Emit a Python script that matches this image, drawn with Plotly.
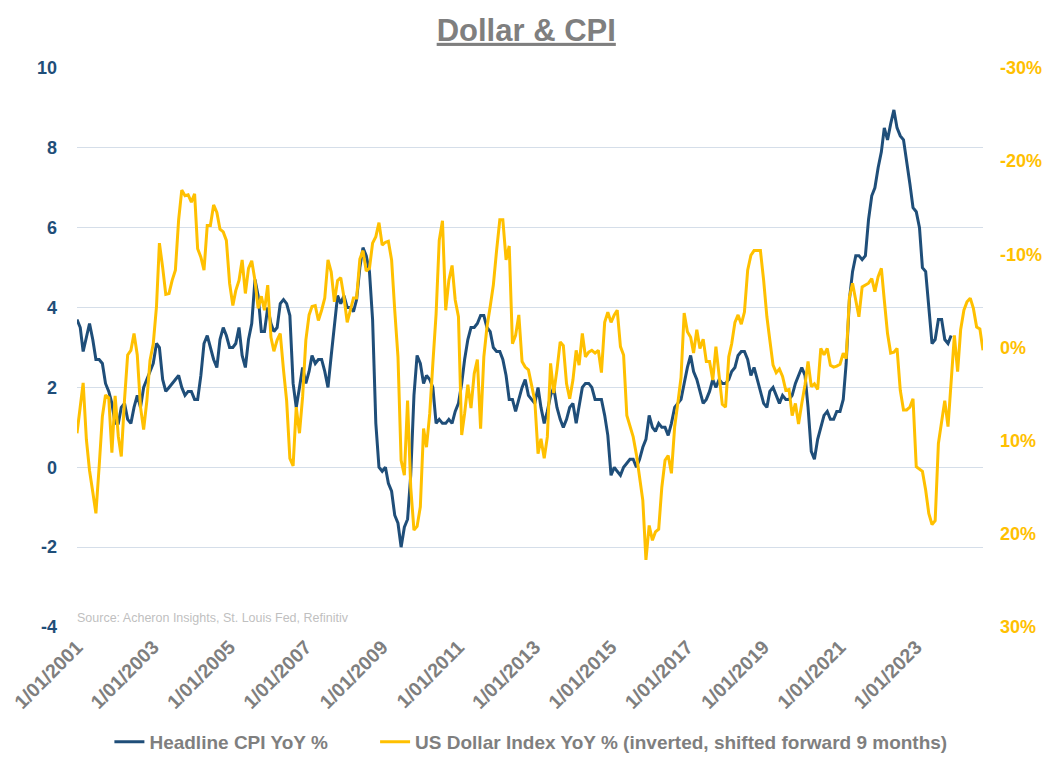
import pandas as pd
import plotly.graph_objects as go

# Headline CPI YoY %, monthly Jan-2001 .. Dec-2023
cpi_yoy = [
    3.7, 3.5, 2.9, 3.3, 3.6, 3.2, 2.7, 2.7, 2.6, 2.1, 1.9, 1.6,   # 2001
    1.1, 1.1, 1.5, 1.6, 1.2, 1.1, 1.5, 1.8, 1.5, 2.0, 2.2, 2.4,   # 2002
    2.6, 3.1, 3.0, 2.2, 1.9, 2.0, 2.1, 2.2, 2.3, 2.0, 1.8, 1.9,   # 2003
    1.9, 1.7, 1.7, 2.3, 3.1, 3.3, 3.0, 2.7, 2.5, 3.2, 3.5, 3.3,   # 2004
    3.0, 3.0, 3.1, 3.5, 2.8, 2.5, 3.2, 3.6, 4.7, 4.3, 3.4, 3.4,   # 2005
    4.0, 3.6, 3.4, 3.5, 4.1, 4.2, 4.1, 3.8, 2.1, 1.5, 2.0, 2.5,   # 2006
    2.1, 2.4, 2.8, 2.6, 2.7, 2.7, 2.4, 2.0, 2.8, 3.5, 4.3, 4.1,   # 2007
    4.3, 4.0, 4.0, 3.9, 4.2, 5.0, 5.5, 5.3, 4.9, 3.7, 1.1, 0.0,   # 2008
    -0.1, 0.0, -0.4, -0.6, -1.2, -1.4, -2.0, -1.5, -1.3, -0.2, 1.8, 2.8,  # 2009
    2.6, 2.1, 2.3, 2.2, 2.0, 1.1, 1.2, 1.1, 1.1, 1.2, 1.1, 1.4,   # 2010
    1.6, 2.1, 2.7, 3.2, 3.5, 3.5, 3.6, 3.8, 3.8, 3.5, 3.4, 3.0,   # 2011
    2.9, 2.9, 2.7, 2.3, 1.7, 1.7, 1.4, 1.7, 2.0, 2.2, 1.8, 1.7,   # 2012
    1.6, 2.0, 1.5, 1.1, 1.4, 1.8, 2.0, 1.5, 1.2, 1.0, 1.2, 1.5,   # 2013
    1.6, 1.1, 1.5, 2.0, 2.1, 2.1, 2.0, 1.7, 1.7, 1.7, 1.3, 0.8,   # 2014
    -0.2, 0.0, -0.1, -0.2, 0.0, 0.1, 0.2, 0.2, 0.0, 0.2, 0.5, 0.7,  # 2015
    1.3, 1.0, 0.9, 1.1, 1.0, 1.0, 0.8, 1.1, 1.5, 1.6, 1.7, 2.1,   # 2016
    2.5, 2.8, 2.4, 2.2, 1.9, 1.6, 1.7, 1.9, 2.2, 2.0, 2.2, 2.1,   # 2017
    2.1, 2.2, 2.4, 2.5, 2.8, 2.9, 2.9, 2.7, 2.3, 2.5, 2.2, 1.9,   # 2018
    1.6, 1.5, 1.9, 2.0, 1.8, 1.6, 1.8, 1.7, 1.7, 1.8, 2.1, 2.3,   # 2019
    2.5, 2.3, 1.5, 0.4, 0.2, 0.7, 1.0, 1.3, 1.4, 1.2, 1.2, 1.4,   # 2020
    1.4, 1.7, 2.6, 4.2, 4.9, 5.3, 5.3, 5.2, 5.3, 6.2, 6.8, 7.0,   # 2021
    7.5, 7.9, 8.5, 8.2, 8.6, 8.95, 8.5, 8.3, 8.2, 7.7, 7.1, 6.5,  # 2022
    6.4, 6.0, 5.0, 4.9, 4.0, 3.1, 3.2, 3.7, 3.7, 3.2, 3.1, 3.3,   # 2023
]

# US Dollar Index YoY % (plotted 9 months forward), monthly Jan-2001 .. Oct-2024
usd_yoy = [
    9.2, 6.0, 3.8, 9.9, 13.2, 15.5, 17.8, 12.8, 7.4, 5.1, 5.4, 11.3,          # 2001
    5.2, 9.6, 11.7, 5.6, 0.8, 0.3, -1.5, 0.8, 6.4, 8.8, 5.7, 1.4,             # 2002
    -0.4, -4.4, -11.2, -8.6, -5.7, -5.8, -7.2, -8.3, -13.7, -16.9, -16.3, -16.4,  # 2003
    -15.6, -16.5, -10.6, -9.7, -8.3, -13.1, -13.1, -15.3, -14.5, -12.7, -12.4, -11.5,  # 2004
    -6.9, -4.5, -6.1, -7.2, -9.4, -5.8, -8.5, -9.3, -7.2, -4.2, -5.5, -4.0,   # 2005
    -6.7, -1.1, 0.4, -0.8, -1.5, 2.4, 5.7, 11.9, 12.7, 6.4, 9.2, 5.3,         # 2006
    -0.8, -3.5, -4.4, -4.5, -2.9, -4.0, -5.3, -9.4, -8.1, -4.9, -7.2, -7.5,   # 2007
    -5.4, -2.7, -4.0, -5.3, -5.3, -9.5, -10.4, -8.2, -8.5, -11.2, -11.9, -13.4,  # 2008
    -11.0, -11.3, -11.4, -9.4, -4.0, 1.0, 12.1, 13.7, 5.7, 15.0, 19.6, 19.2,  # 2009
    17.1, 8.7, 10.7, 7.1, 1.7, -3.6, -11.5, -13.6, -4.0, -7.2, -8.8, -5.1,    # 2010
    -3.3, 9.4, 7.1, 4.0, 6.5, 2.8, 1.3, 8.7, 1.0, -2.2, -4.4, -6.7,           # 2011
    -10.4, -13.7, -13.7, -9.4, -10.9, -0.4, -1.3, -3.5, 1.5, 2.1, 2.4, 4.0,   # 2012
    5.7, 11.4, 9.8, 11.9, 9.6, 1.7, 4.9, 2.4, -0.6, -0.2, 3.9, 5.5,           # 2013
    3.5, 0.3, 1.9, -1.5, 1.0, 0.5, 0.3, 0.6, 0.3, 2.7, -2.7, -3.8,            # 2014
    -2.7, -3.5, -4.0, -0.1, 0.8, 7.3, 8.5, 9.6, 11.5, 13.9, 16.4, 22.8,       # 2015
    19.1, 20.7, 19.8, 19.5, 15.0, 12.1, 11.6, 13.5, 8.5, 6.0, 3.2, -3.7,      # 2016
    -1.7, -1.1, 0.6, -1.9, 0.1, -0.9, 1.5, 1.5, 3.5, -0.1, 2.8, 6.1,          # 2017
    6.4, 1.0, -0.4, -2.7, -3.5, -2.5, -3.8, -8.3, -9.9, -10.4, -10.4, -10.4,  # 2018
    -7.2, -3.3, -0.8, 1.9, 2.7, 2.3, 3.1, 4.6, 4.5, 7.3, 6.0, 8.2,            # 2019
    6.0, 4.0, 1.5, 4.2, 3.9, 4.5, 0.1, 0.8, 0.1, 1.9, 2.1, 2.0,               # 2020
    1.8, 0.6, 1.2, -5.4, -6.9, -5.1, -3.3, -6.5, -6.7, -6.9, -7.4, -6.0,      # 2021
    -7.6, -8.5, -5.1, -1.5, 0.6, 0.5, 0.1, 4.6, 6.7, 6.7, 6.4, 5.5,           # 2022
    12.8, 13.1, 13.3, 15.3, 17.8, 19.0, 18.6, 10.3, 8.2, 5.7, 8.5, 3.5,       # 2023
    -1.3, 2.6, -1.9, -4.0, -4.9, -5.3, -4.2, -2.2, -2.0, 0.3,                # 2024
]

cpi_dates = pd.date_range("2001-01-01", periods=len(cpi_yoy), freq="MS")
usd_dates = pd.date_range("2001-01-01", periods=len(usd_yoy), freq="MS")

tick_years = list(range(2001, 2024, 2))
tick_vals = [f"{y}-01-01" for y in tick_years]
tick_text = [f"<b>1/01/{y}</b>" for y in tick_years]

left_ticks = [-4, -2, 0, 2, 4, 6, 8, 10]
left_text = [f"<b>{v}</b>" for v in left_ticks]
right_ticks = [-30, -20, -10, 0, 10, 20, 30]
right_text = [f"<b>{v}%</b>" for v in right_ticks]

BLUE = "#1F4E79"
GOLD = "#FFC000"
GRAY = "#7F7F7F"
FONT = "Liberation Sans, Arial, sans-serif"

# page has an 8px body margin, so the figure is sized to fit the 1055x766 window
W, H = 1047, 758

fig = go.Figure()
fig.add_trace(go.Scatter(
    x=cpi_dates, y=cpi_yoy,
    name="<b>Headline CPI YoY %</b>" + "&nbsp;" * 8, mode="lines",
    line=dict(color=BLUE, width=3), yaxis="y"))
fig.add_trace(go.Scatter(
    x=usd_dates, y=usd_yoy,
    name="<b>US Dollar Index YoY % (inverted, shifted forward 9 months)</b>",
    mode="lines", line=dict(color=GOLD, width=3), yaxis="y2"))

fig.update_layout(
    width=W, height=H,
    margin=dict(l=69, r=72, t=60, b=139, autoexpand=False),
    paper_bgcolor="white", plot_bgcolor="white",
    font=dict(family=FONT, color=GRAY),
    title=dict(text="<b><u>Dollar & CPI</u></b>", x=0.495, xanchor="center",
               y=1 - 22 / H, yanchor="middle", automargin=False,
               font=dict(size=31, color=GRAY)),
    xaxis=dict(type="date", range=["2001-01-01", "2024-10-01"],
               tickvals=tick_vals, ticktext=tick_text, tickangle=-45,
               showgrid=False, zeroline=False, showline=False, automargin=False,
               tickfont=dict(size=19.5, color=GRAY, family=FONT),
               ticks="", ticklabelstandoff=4, ticklabeloverflow="allow"),
    yaxis=dict(range=[-4, 10], tickvals=left_ticks, ticktext=left_text, showgrid=True,
               gridcolor="#D5DEE9", gridwidth=1, zeroline=False, automargin=False,
               tickfont=dict(size=18, color=BLUE, family=FONT),
               ticklabelstandoff=19),
    yaxis2=dict(range=[30, -30], tickvals=right_ticks, ticktext=right_text,
                overlaying="y", side="right", showgrid=False, zeroline=False,
                automargin=False,
                tickfont=dict(size=18, color=GOLD, family=FONT),
                ticklabelstandoff=16),
    legend=dict(orientation="h", x=0.501, xanchor="center",
                yref="container", y=1 - 734 / H, yanchor="middle",
                font=dict(size=19, color=GRAY), itemwidth=30, tracegroupgap=0,
                bgcolor="rgba(0,0,0,0)"),
    showlegend=True,
)

# faint top gridline as in the reference
fig.add_shape(type="line", xref="paper", x0=0, x1=1, yref="y", y0=10, y1=10,
              line=dict(color="rgba(255,255,255,0.65)", width=1.5), layer="below")

fig.add_annotation(text="Source: Acheron Insights, St. Louis Fed, Refinitiv",
                   xref="paper", yref="paper", x=0, y=0, xanchor="left", yanchor="bottom",
                   xshift=-2, yshift=0,
                   showarrow=False, font=dict(size=12.5, color="#BFBFBF"))

fig.write_html("out.html")
